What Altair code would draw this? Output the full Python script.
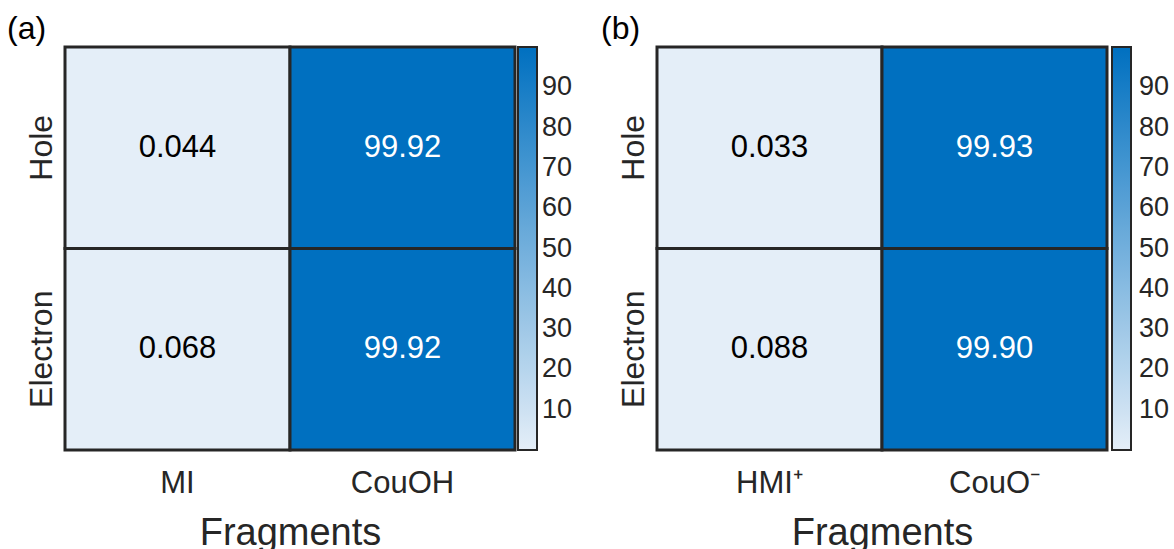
import altair as alt
import pandas as pd

carriers = ["Hole", "Electron"]
frag_a = ["MI", "CouOH"]
frag_b = ["HMI⁺", "CouO⁻"]
hole_a = [0.044, 99.92]
elec_a = [0.068, 99.92]
hole_b = [0.033, 99.93]
elec_b = [0.088, 99.90]
cbar_ticks = [10, 20, 30, 40, 50, 60, 70, 80, 90]

FONT = "Liberation Sans"
DARK = "#262626"


def fmt(v):
    return f"{v:.3f}" if v < 1 else f"{v:.2f}"


def make_df(frags, hole, elec):
    rows = []
    for f, v in zip(frags, hole):
        rows.append({"frag": f, "carrier": "Hole", "value": v, "label": fmt(v)})
    for f, v in zip(frags, elec):
        rows.append({"frag": f, "carrier": "Electron", "value": v, "label": fmt(v)})
    return pd.DataFrame(rows)


def panel(frags, hole, elec, tag, dx, loff, lab_off):
    df = make_df(frags, hole, elec)
    base = alt.Chart(df)
    x = alt.X("frag:N", sort=frags,
              axis=alt.Axis(title="Fragments", labelAngle=0, ticks=False, domain=False,
                            labelFontSize=31, titleFontSize=38, labelPadding=18,
                            titlePadding=16, labelColor=DARK, titleColor=DARK,
                            titleFontWeight="normal", labelFont=FONT, titleFont=FONT))
    y = alt.Y("carrier:N", sort=carriers,
              axis=alt.Axis(title=None, labelAngle=270, labelAlign="center",
                            labelBaseline="alphabetic", ticks=False, domain=False,
                            labelFontSize=32, labelPadding=14, labelColor=DARK,
                            labelFont=FONT))
    rect = base.mark_rect(stroke=DARK, strokeWidth=3).encode(
        x=x, y=y,
        color=alt.Color("value:Q",
                        scale=alt.Scale(domain=[0, 100], range=["#e4eef8", "#0070c0"],
                                        interpolate="rgb"),
                        legend=alt.Legend(title=None, values=cbar_ticks, orient="right",
                                          offset=loff, padding=0, gradientLength=403,
                                          gradientThickness=19, gradientStrokeColor=DARK,
                                          gradientStrokeWidth=2, labelFontSize=27,
                                          labelColor=DARK, labelFont=FONT,
                                          labelOverlap=False, labelOffset=lab_off)),
    )
    text = base.mark_text(fontSize=31, font=FONT).encode(
        x=alt.X("frag:N", sort=frags),
        y=alt.Y("carrier:N", sort=carriers),
        text="label:N",
        color=alt.condition(alt.datum.value > 50, alt.value("white"), alt.value("black")),
    )
    return (rect + text).properties(
        width=450, height=403,
        title=alt.TitleParams(tag, anchor="start", frame="bounds", fontSize=32,
                              fontWeight="normal", font=FONT, color="black", dx=dx,
                              offset=0),
    )


pa = panel(frag_a, hole_a, elec_a, "(a)", -18, 3, 5)
pb = panel(frag_b, hole_b, elec_b, "(b)", -16, 5, 8)

chart = alt.hconcat(pa, pb, spacing=28).resolve_scale(color="independent").resolve_legend(
    color="independent"
).properties(
    padding={"left": 7, "top": 12, "right": 0, "bottom": 0}
).configure_view(stroke=None)

chart.save("out.html", embed_options={"renderer": "svg", "actions": False})
